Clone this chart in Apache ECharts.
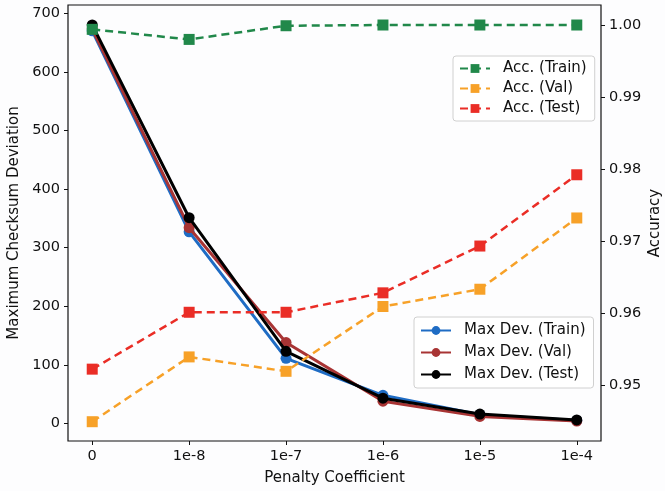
<!DOCTYPE html>
<html>
<head>
<meta charset="utf-8">
<script src="https://cdn.jsdelivr.net/npm/echarts@6/dist/echarts.min.js"></script>
<style>
html,body{margin:0;padding:0;background:#fdfdfe;}
#c{width:665px;height:491px;}
</style>
</head>
<body>
<div id="c"></div>
<script>
const categories = ['0', '1e-8', '1e-7', '1e-6', '1e-5', '1e-4'];
const maxDevTrain = [670, 327, 111, 48, 15, 5];
const maxDevVal   = [673, 334, 138, 38, 12, 4];
const maxDevTest  = [680, 351, 123, 43, 16, 6];
const accTrain = [0.9994, 0.9980, 0.9999, 1.0000, 1.0000, 1.0000];
const accVal   = [0.9449, 0.9539, 0.9519, 0.9609, 0.9633, 0.9732];
const accTest  = [0.9522, 0.9601, 0.9601, 0.9628, 0.9693, 0.9792];
const leftTicks = [0, 100, 200, 300, 400, 500, 600, 700];
const rightTicks = [0.95, 0.96, 0.97, 0.98, 0.99, 1.00];

const font = 'DejaVu Sans';
const toPairs = arr => arr.map((v, i) => [i, v]);
const idx = categories.map((c, i) => i);

function devSeries(name, data, color, z) {
  return {
    name, type: 'line', yAxisIndex: 0, data: toPairs(data),
    symbol: 'circle', symbolSize: 11,
    lineStyle: { color, width: 3 }, itemStyle: { color },
    z, animation: false
  };
}
function accSeries(name, data, color, z) {
  return {
    name, type: 'line', yAxisIndex: 1, data: toPairs(data),
    symbol: 'rect', symbolSize: 11,
    lineStyle: { color, width: 2.5, type: [8, 5] }, itemStyle: { color },
    z, animation: false
  };
}

const tickLab = { fontFamily: font, fontSize: 14.5, color: '#111' };
const nameLab = { fontFamily: font, fontSize: 15, color: '#111' };

const chart = echarts.init(document.getElementById('c'), null, { renderer: 'canvas' });
chart.setOption({
  backgroundColor: '#fdfdfe',
  animation: false,
  textStyle: { fontFamily: font },
  grid: { left: 68, right: 64, top: 5, bottom: 50, containLabel: false, outerBoundsMode: 'none',
          show: true, borderColor: '#111', borderWidth: 1.2, backgroundColor: 'transparent' },
  xAxis: {
    type: 'value', min: -0.25, max: 5.25,
    name: 'Penalty Coefficient', nameLocation: 'middle', nameGap: 30,
    nameTextStyle: nameLab,
    axisLine: { show: false, onZero: false },
    axisTick: { show: true, length: 4, lineStyle: { color: '#111' }, customValues: idx },
    axisLabel: Object.assign({ margin: 8, customValues: idx, formatter: v => categories[Math.round(v)] }, tickLab),
    splitLine: { show: false }
  },
  yAxis: [
    {
      type: 'value', min: -30, max: 714,
      name: 'Maximum Checksum Deviation', nameLocation: 'middle', nameGap: 45,
      nameTextStyle: nameLab,
      axisLine: { show: false, onZero: false },
      axisTick: { show: true, length: 4, lineStyle: { color: '#111' }, customValues: leftTicks },
      axisLabel: Object.assign({ margin: 8, customValues: leftTicks }, tickLab),
      splitLine: { show: false }
    },
    {
      type: 'value', min: 0.94222, max: 1.00278, position: 'right',
      name: 'Accuracy', nameLocation: 'middle', nameGap: 47, nameMoveOverlap: false,
      nameTextStyle: nameLab,
      axisLine: { show: false, onZero: false },
      axisTick: { show: true, length: 4, lineStyle: { color: '#111' }, customValues: rightTicks },
      axisLabel: Object.assign({ margin: 8, customValues: rightTicks, formatter: v => v.toFixed(2) }, tickLab),
      splitLine: { show: false }
    }
  ],
  legend: [
    {
      data: ['Acc. (Train)', 'Acc. (Val)', 'Acc. (Test)'],
      orient: 'vertical', left: 453, top: 56,
      padding: [5, 8, 5, 6], itemGap: 5, itemWidth: 30, itemHeight: 11,
      backgroundColor: '#fff', borderColor: '#d0d0d0', borderWidth: 1, borderRadius: 3,
      textStyle: { fontFamily: font, fontSize: 15, color: '#111', padding: [0, 0, 0, 8] }
    },
    {
      data: ['Max Dev. (Train)', 'Max Dev. (Val)', 'Max Dev. (Test)'],
      orient: 'vertical', left: 414, top: 317,
      padding: [6, 8, 6, 6], itemGap: 7, itemWidth: 30, itemHeight: 11,
      backgroundColor: '#fff', borderColor: '#d0d0d0', borderWidth: 1, borderRadius: 3,
      textStyle: { fontFamily: font, fontSize: 15, color: '#111', padding: [0, 0, 0, 8] }
    }
  ],
  series: [
    devSeries('Max Dev. (Train)', maxDevTrain, '#1f6cc4', 2),
    devSeries('Max Dev. (Val)', maxDevVal, '#a83434', 3),
    devSeries('Max Dev. (Test)', maxDevTest, '#000000', 4),
    accSeries('Acc. (Train)', accTrain, '#21884a', 5),
    accSeries('Acc. (Val)', accVal, '#f7a128', 5),
    accSeries('Acc. (Test)', accTest, '#ea2d26', 5)
  ]
});
</script>
</body>
</html>
